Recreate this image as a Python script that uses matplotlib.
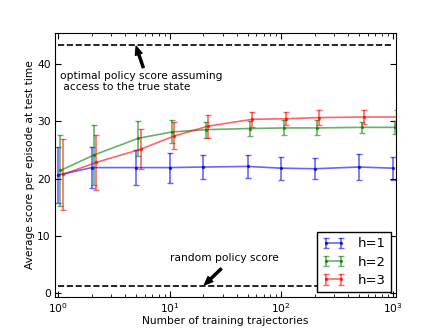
import numpy as np
import matplotlib
matplotlib.use('Agg')
import matplotlib.pyplot as plt
from matplotlib.container import ErrorbarContainer
from matplotlib.legend_handler import HandlerErrorbar

# number of training trajectories
n_traj = [1, 2, 5, 10, 20, 50, 100, 200, 500, 1000]

h1_mean = [20.6, 21.9, 21.9, 21.9, 22.0, 22.1, 21.8, 21.7, 22.0, 21.8]
h1_err = [4.9, 3.55, 3.0, 2.6, 2.05, 2.0, 2.0, 1.8, 2.3, 2.0]

h2_mean = [21.4, 24.1, 27.0, 28.1, 28.5, 28.7, 28.8, 28.8, 28.9, 28.9]
h2_err = [6.1, 5.2, 3.0, 2.0, 1.4, 1.3, 1.3, 1.3, 1.0, 1.1]

h3_mean = [20.7, 22.8, 25.1, 27.4, 29.1, 30.3, 30.4, 30.6, 30.7, 30.7]
h3_err = [6.2, 4.8, 3.5, 2.35, 2.0, 1.3, 1.1, 1.3, 1.2, 1.2]

optimal_score = 43.3
random_score = 1.3

fs = 7.7

fig = plt.figure(figsize=(4.41, 3.31), dpi=100)
ax = fig.add_axes([0.125, 0.103, 0.773, 0.797])

x = np.array(n_traj, dtype=float)
series = [
    (h1_mean, h1_err, 'b', 1.0, 'h=1'),
    (h2_mean, h2_err, 'g', 1.05, 'h=2'),
    (h3_mean, h3_err, 'r', 1.1, 'h=3'),
]
for mean, err, col, shift, lab in series:
    ax.errorbar(x * shift, mean, yerr=err, color=col, alpha=0.6, lw=1.2,
                capsize=2, capthick=1.0, elinewidth=1.2, marker='.',
                ms=3, mec='navy' if col == 'b' else col, label=lab)

ax.plot([1, 1000], [optimal_score, optimal_score], 'k--', lw=1.2)
ax.plot([1, 1000], [random_score, random_score], 'k--', lw=1.2)

arrow = dict(facecolor='black', edgecolor='black', width=1.5, headwidth=5,
             headlength=6, shrink=0.0)
ax.annotate('', xy=(5.0, optimal_score - 0.3), xytext=(5.8, 39.3), arrowprops=arrow)
ax.text(1.04, 38.7, 'optimal policy score assuming\n access to the true state',
        fontsize=fs, ha='left', va='top', linespacing=1.15)
ax.annotate('', xy=(20.5, random_score + 0.2), xytext=(29, 4.3), arrowprops=arrow)
ax.text(31, 6.1, 'random policy score', fontsize=fs, ha='center', va='center')

ax.set_xscale('log')
ax.set_xlim(0.94, 1070)
ax.set_ylim(-0.6, 45.3)
ax.set_yticks([0, 10, 20, 30, 40])
ax.tick_params(which='both', direction='in', top=True, right=True, labelsize=fs)
ax.tick_params(which='major', length=4, pad=3)
ax.tick_params(which='minor', length=2)
ax.set_xlabel('Number of training trajectories', fontsize=fs, labelpad=1)
ax.set_ylabel('Average score per episode at test time', fontsize=fs, labelpad=2)

leg = ax.legend(loc='lower right', fontsize=9.5, fancybox=False, framealpha=1,
                numpoints=2, handlelength=1.7, borderaxespad=0.35,
                labelspacing=0.4, handletextpad=1.0,
                handler_map={ErrorbarContainer: HandlerErrorbar(yerr_size=0.4)})
leg.get_frame().set_edgecolor('black')

fig.savefig('out.png', dpi=100)
